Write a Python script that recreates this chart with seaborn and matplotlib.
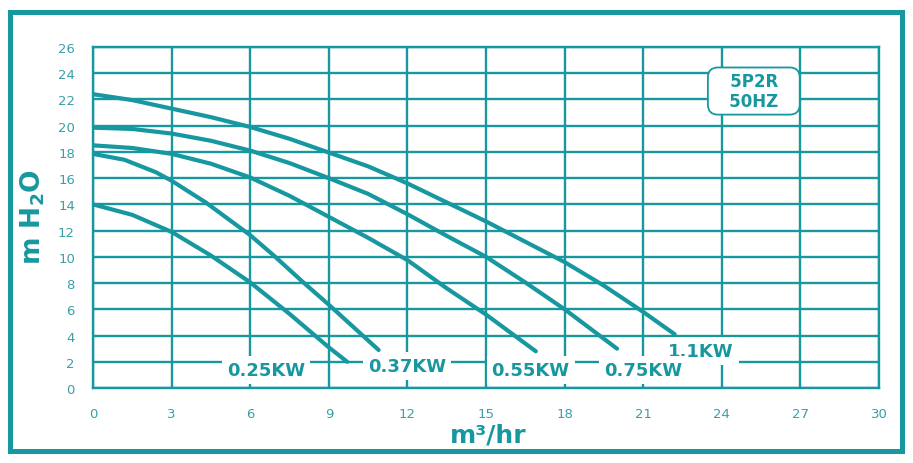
import numpy as np
import pandas as pd
import seaborn as sns
import matplotlib.pyplot as plt
from matplotlib.patches import Rectangle

TEAL = "#17979f"
TICK_TEAL = "#3a9fa8"

# pump curves (flow m3/hr, head m H2O)
flow_025 = [0, 1.5, 3, 4.5, 6, 7.5, 9, 9.7]
head_025 = [14.0, 13.2, 11.9, 10.1, 8.05, 5.65, 3.1, 2.0]

flow_037 = [0, 1.2, 2.4, 3, 4.3, 6, 6.9, 8.0, 9, 10.9]
head_037 = [17.85, 17.4, 16.45, 15.8, 14.15, 11.65, 10.1, 8.1, 6.35, 2.9]

flow_055 = [0, 1.5, 3, 4.5, 6, 7.5, 9, 10.5, 12, 13.5, 15, 16.9]
head_055 = [18.5, 18.3, 17.85, 17.1, 16.05, 14.65, 13.05, 11.45, 9.75, 7.6, 5.6, 2.8]

flow_075 = [0, 1.5, 3, 4.5, 6, 7.5, 9, 10.5, 12, 13.5, 15, 16.5, 18, 19, 20]
head_075 = [19.85, 19.75, 19.4, 18.85, 18.1, 17.15, 16.0, 14.8, 13.25, 11.6, 10.0, 8.05, 6.0, 4.5, 3.0]

flow_110 = [0, 1.5, 3, 4.5, 6, 7.5, 9, 10.5, 12, 13.5, 15, 16.5, 18, 19.5, 21, 22.2]
head_110 = [22.4, 21.95, 21.3, 20.65, 19.9, 19.0, 17.95, 16.9, 15.6, 14.15, 12.7, 11.15, 9.6, 7.8, 5.8, 4.1]

motors = ["0.25KW", "0.37KW", "0.55KW", "0.75KW", "1.1KW"]
label_x = [6.6, 12.0, 16.7, 21.0, 23.2]
label_y = [1.37, 1.68, 1.37, 1.37, 2.82]

x_ticks = list(range(0, 31, 3))
y_ticks = list(range(0, 27, 2))

curves = [(flow_025, head_025), (flow_037, head_037), (flow_055, head_055),
          (flow_075, head_075), (flow_110, head_110)]
frames = []
for name, (q, h) in zip(motors, curves):
    frames.append(pd.DataFrame({"flow": q, "head": h, "motor": name}))
df = pd.concat(frames, ignore_index=True)

sns.set_style("white")
plt.rcParams['font.family'] = ['DejaVu Sans']

fig = plt.figure(figsize=(9.13, 4.64), dpi=100)
ax = fig.add_axes([0.1019, 0.1616, 0.8609, 0.735])

sns.lineplot(data=df, x="flow", y="head", hue="motor", estimator=None, sort=False,
             palette={m: TEAL for m in motors}, linewidth=3.0, legend=False,
             ax=ax, zorder=5)

ax.set_xlim(0, 30)
ax.set_ylim(0, 26)
ax.set_xticks(x_ticks)
ax.set_yticks(y_ticks)
ax.grid(True, color=TEAL, linewidth=1.7)
ax.set_axisbelow(True)
for s in ax.spines.values():
    s.set_color(TEAL)
    s.set_linewidth(1.7)
ax.tick_params(axis="both", colors=TEAL, direction="out", length=4, width=1.7,
               labelsize=9.5, labelcolor=TICK_TEAL)
ax.tick_params(axis="x", pad=9.5)
ax.tick_params(axis="y", pad=9)

ax.set_xlabel("m³/hr", fontsize=18, fontweight="bold", color=TEAL)
ax.set_ylabel(r"m H$_\mathbf{2}$O", fontsize=19, fontweight="bold", color=TEAL)
ax.xaxis.set_label_coords(0.5025, -0.1)
ax.yaxis.set_label_coords(-0.058, 0.505)

# power labels sit on white patches over the grid (drawn right to left)
for name, lx, ly in list(zip(motors, label_x, label_y))[::-1]:
    ax.text(lx, ly, name, fontsize=13, fontweight="bold", color=TEAL,
            ha="center", va="center", zorder=4,
            bbox=dict(facecolor="white", edgecolor="none", pad=3.5))

ax.text(25.22, 22.64, "   5P2R   \n   50HZ   ", fontsize=12, fontweight="bold",
        color=TEAL, ha="center", va="center", linespacing=1.2, zorder=6,
        bbox=dict(boxstyle="round,pad=0.25,rounding_size=0.6", facecolor="white",
                  edgecolor=TEAL, linewidth=1.3))

# outer border of the sheet
fig.patches.append(Rectangle((0.0115, 0.026), 0.976, 0.946, transform=fig.transFigure,
                             fill=False, edgecolor=TEAL, linewidth=3.6))

fig.savefig("out.png", dpi=100)
